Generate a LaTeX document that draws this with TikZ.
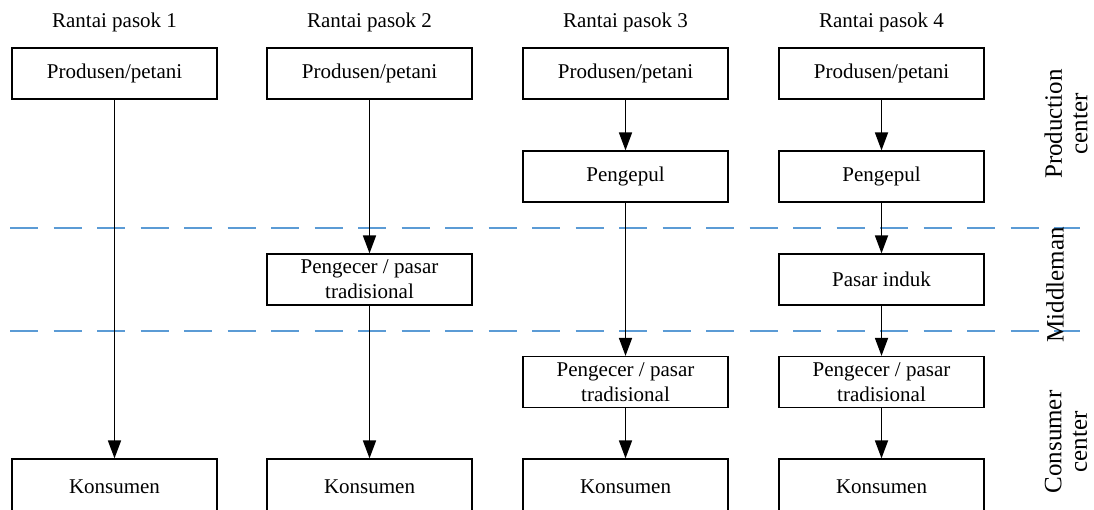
\documentclass[tikz,border=0pt]{standalone}
\usepackage{fontspec}
\setmainfont{Liberation Serif}
\usetikzlibrary{arrows.meta}
\definecolor{zoneblue}{HTML}{5B9BD5}
\begin{document}
\begin{tikzpicture}[x=1pt,y=-1pt,
  every node/.style={font=\fontsize{21}{25}\selectfont},
  stage/.style={draw=black, line width=1.2pt, minimum width=205pt, minimum height=51pt, inner sep=0pt, align=center, fill=white},
  endstage/.style={stage, minimum height=56pt},
  flow/.style={line width=1.7pt, -{Triangle[length=18pt,width=13pt]}},
  zone/.style={draw=zoneblue, line width=1.3pt, dash pattern=on 28pt off 15.5pt},
  title/.style={inner sep=0pt},
  side/.style={rotate=90, align=center, inner sep=0pt, font=\fontsize{25}{25.5}\selectfont}]
\useasboundingbox (0,0) rectangle (1094,510);
\begin{scope}
\clip (0,0) rectangle (1094,510);

% zone separators
\draw[zone] (10,228) coordinate (d1a) -- (1080,228) coordinate (d1b);
\draw[zone] (10,331) coordinate (d2a) -- (1080,331) coordinate (d2b);

% column titles
\node[title] (t1) at (114.5,22) {Rantai pasok 1};
\node[title] (t2) at (369.5,22) {Rantai pasok 2};
\node[title] (t3) at (625.5,22) {Rantai pasok 3};
\node[title] (t4) at (881.5,22) {Rantai pasok 4};

% chain 1
\node[stage] (p1) at (114.5,73.5) {Produsen/petani};
\node[endstage] (k1) at (114.5,487) {Konsumen};

% chain 2
\node[stage] (p2) at (369.5,73.5) {Produsen/petani};
\node[stage] (r2) at (369.5,279.5) {Pengecer / pasar\\tradisional};
\node[endstage] (k2) at (369.5,487) {Konsumen};

% chain 3
\node[stage] (p3) at (625.5,73.5) {Produsen/petani};
\node[stage] (c3) at (625.5,176.5) {Pengepul};
\node[stage] (r3) at (625.5,382) {Pengecer / pasar\\tradisional};
\node[endstage] (k3) at (625.5,487) {Konsumen};

% chain 4
\node[stage] (p4) at (881.5,73.5) {Produsen/petani};
\node[stage] (c4) at (881.5,176.5) {Pengepul};
\node[stage] (m4) at (881.5,279.5) {Pasar induk};
\node[stage] (r4) at (881.5,382) {Pengecer / pasar\\tradisional};
\node[endstage] (k4) at (881.5,487) {Konsumen};

% flows
\draw[flow] (p1) -- (k1);
\draw[flow] (p2) -- (r2);
\draw[flow] (r2) -- (k2);
\draw[flow] (p3) -- (c3);
\draw[flow] (c3) -- (r3);
\draw[flow] (r3) -- (k3);
\draw[flow] (p4) -- (c4);
\draw[flow] (c4) -- (m4);
\draw[flow] (m4) -- (r4);
\draw[flow] (r4) -- (k4);

% zone labels
\node[side] (zp) at (1066,124) {Production\\center};
\node[side] (zm) at (1055,285) {Middleman};
\node[side] (zc) at (1066,442) {Consumer\\center};
\end{scope}
\end{tikzpicture}
\end{document}
